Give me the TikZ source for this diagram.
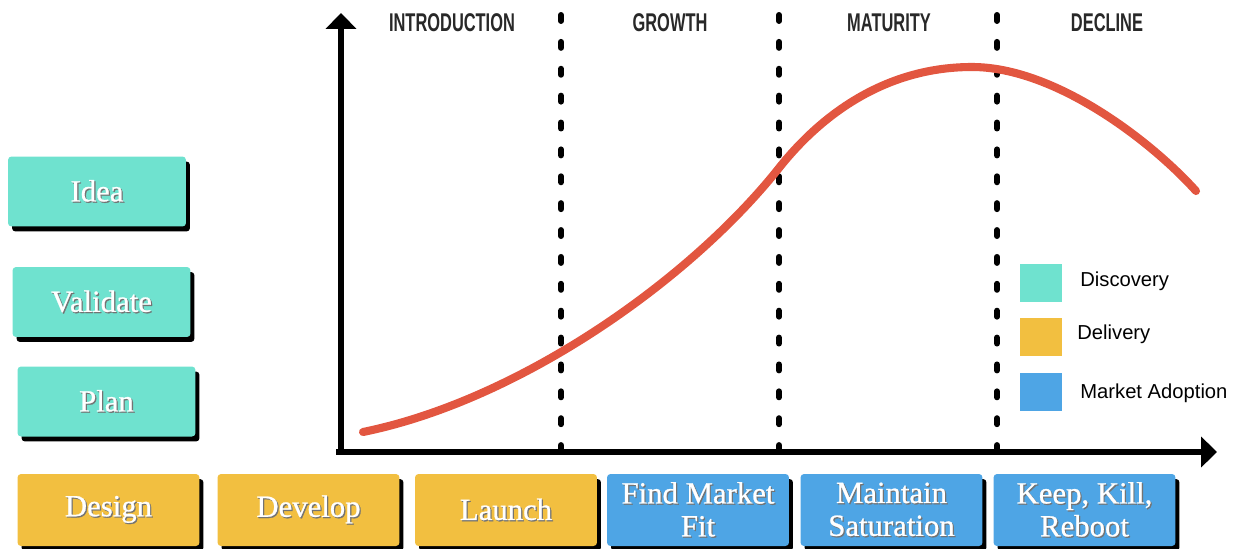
\documentclass[tikz,border=0pt]{standalone}
\usepackage{fontspec}
\setmainfont{Liberation Serif}
\newfontfamily\cardfont[FakeBold=0.8]{Liberation Serif}
\newfontfamily\legendfont{Liberation Sans}
\newfontfamily\phasefont[FakeStretch=0.64]{Liberation Sans Bold}
\usetikzlibrary{arrows.meta, shadows}

\definecolor{discovery}{RGB}{111,226,207}
\definecolor{delivery}{RGB}{242,191,64}
\definecolor{adoption}{RGB}{78,165,229}
\definecolor{curvered}{RGB}{226,86,64}
\definecolor{phasegray}{RGB}{40,40,40}

% white box text with a soft dark edge
\newcommand\emb[1]{\leavevmode\rlap{\kern0.7pt\raisebox{-0.7pt}{\textcolor{black!55}{#1}}}#1}

\tikzset{
	card/.style={rounded corners=2pt, minimum width=3.56cm, minimum height=1.4cm,
		inner sep=0pt, align=center, text=white,
		font=\cardfont\fontsize{17.5}{18.7}\selectfont,
		drop shadow={shadow xshift=0.08cm, shadow yshift=-0.1cm, opacity=1, fill=black}},
	wide card/.style={card, minimum width=3.64cm, minimum height=1.44cm},
	phase/.style={font=\phasefont\fontsize{14.6}{15}\selectfont, text=phasegray, inner sep=0pt, anchor=base},
	swatch/.style={minimum width=0.84cm, minimum height=0.76cm, inner sep=0pt},
	legend text/.style={font=\legendfont\fontsize{11.5}{13}\selectfont, anchor=west, inner sep=0pt},
	axis/.style={line width=3.4pt, -{Triangle[width=17pt, length=9pt]}},
	divider/.style={line width=3.4pt, line cap=round, dash pattern=on 3.4pt off 11.9pt},
	lifecurve/.style={line width=4.6pt, curvered, line cap=round}
}

\begin{document}
\begin{tikzpicture}[x=0.02cm, y=-0.02cm]
	\useasboundingbox (0,0) rectangle (1237,548);

	\coordinate (O) at (341,452);
	\coordinate (ytip) at (341,13);
	\coordinate (xstart) at (336,452);
	\coordinate (xtip) at (1217,452);

	\foreach \x/\name in {561/d1, 779/d2, 997/d3}{
		\coordinate (\name top) at (\x,15);
		\coordinate (\name bot) at (\x,450);
		\draw[divider] (\name top) -- (\name bot);
	}

	\draw[axis] (O) -- (ytip);
	\draw[axis] (xstart) -- (xtip);

	\node[phase] (intro) at (452,31) {INTRODUCTION};
	\node[phase] (growth) at (670,31) {GROWTH};
	\node[phase] (maturity) at (889,31) {MATURITY};
	\node[phase] (decline) at (1107,31) {DECLINE};

	\coordinate (start) at (363,432);
	\coordinate (turn) at (779,168);
	\coordinate (peak) at (972,67);
	\coordinate (end) at (1196,191);
	\draw[lifecurve] (start) .. controls (520,400) and (690,280) .. (turn)
		.. controls (825,110) and (890,67) .. (peak)
		.. controls (1055,67) and (1151,141) .. (end);

	% discovery cards
	\node[card, fill=discovery] (idea) at (97,191.5) {\emb{Idea}};
	\node[card, fill=discovery] (validate) at (101.5,302) {\emb{Validate}};
	\node[card, fill=discovery] (plan) at (106.5,401.5) {\emb{Plan}};

	% delivery and adoption cards
	\node[wide card, fill=delivery] (design) at (108.5,510) {\emb{Design}};
	\node[wide card, fill=delivery] (develop) at (308.5,510) {\emb{Develop}};
	\node[wide card, fill=delivery] (launch) at (506,510) {\emb{Launch}};
	\node[wide card, fill=adoption] (fit) at (698,510) {\emb{Find Market}\\\emb{Fit}};
	\node[wide card, fill=adoption] (maintain) at (891.5,510) {\emb{Maintain}\\\emb{Saturation}};
	\node[wide card, fill=adoption] (keep) at (1084.5,510) {\emb{Keep, Kill,}\\\emb{Reboot}};

	% legend
	\node[swatch, fill=discovery] (sw1) at (1041,283) {};
	\node[swatch, fill=delivery] (sw2) at (1041,337) {};
	\node[swatch, fill=adoption] (sw3) at (1041,392) {};
	\node[legend text] (lg1) at (1080,281) {Discovery};
	\node[legend text] (lg2) at (1077,334) {Delivery};
	\node[legend text] (lg3) at (1080,393) {Market Adoption};
\end{tikzpicture}
\end{document}
